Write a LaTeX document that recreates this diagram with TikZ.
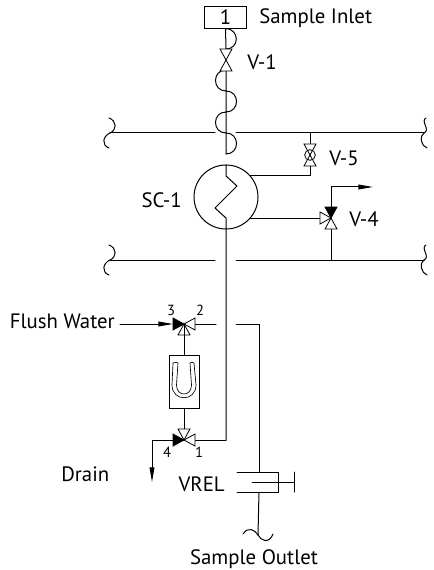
\documentclass[tikz,border=0pt]{standalone}
\usepackage{fontspec}
\setmainfont{PT Sans}
\usetikzlibrary{arrows.meta}
\tikzset{
    pipe/.style={line width=0.75pt,line cap=round},
    lab/.style={font=\fontsize{15.6pt}{17pt}\selectfont,inner sep=0pt},
    portlab/.style={font=\fontsize{11pt}{13pt}\selectfont,inner sep=0pt},
    flow/.style={pipe,-{Triangle[length=11pt,width=3.6pt]}},
    openwedge/.pic={\draw[line width=0.6pt,fill=white] (0,0) -- (-6,-11) -- (6,-11) -- cycle;},
    fullwedge/.pic={\draw[line width=0.6pt,fill=black] (0,0) -- (-6,-11) -- (6,-11) -- cycle;}
}

\begin{document}
\begin{tikzpicture}[x=0.75pt,y=-0.75pt]
    \useasboundingbox (0,0) rectangle (433,570);

    % Sample inlet
    \node[draw,line width=0.6pt,minimum width=32pt,minimum height=16pt,inner sep=0pt,lab] (inlet) at (225.5,17.5) {1};
    \node[lab,anchor=west] (inletlab) at (259,18) {Sample Inlet};

    % Named points of the main line
    \coordinate (vonetop) at (226,49);
    \coordinate (vone) at (226,60);
    \coordinate (vonebot) at (226,70);
    \coordinate (w1) at (226,91);
    \coordinate (w2) at (226,112);
    \coordinate (w3) at (226,133);
    \coordinate (w4) at (226,154);
    \coordinate (sctop) at (226,165);
    \coordinate (scin) at (226,176);
    \coordinate (z1) at (237,186);
    \coordinate (z2) at (215,208);
    \coordinate (scout) at (226,218);
    \coordinate (corner) at (226,440);

    % Line from the inlet, with its flexible parts
    \draw[pipe] (inlet.south) -- (vonetop) (vonebot) -- (w4);
    \draw[pipe] (inlet.south) .. controls +(14,0) and +(14,0) .. (vonetop);
    \draw[pipe] (vonebot) .. controls +(-14,0) and +(-14,0) .. (w1);
    \draw[pipe] (w1) .. controls +(14,0) and +(14,0) .. (w2);
    \draw[pipe] (w2) .. controls +(-14,0) and +(-14,0) .. (w3);
    \draw[pipe] (w3) .. controls +(14,0) and +(14,0) .. (w4);

    % Valve V-1
    \pic at (vone) {openwedge};
    \pic[rotate=180] at (vone) {openwedge};
    \node[lab,anchor=west] (vonelab) at (247,62) {V-1};

    % Cooler
    \node[draw,circle,line width=0.75pt,minimum size=48pt,inner sep=0pt] (cooler) at (226,197) {};
    \node[lab,anchor=east] (coolerlab) at (182,200) {SC-1};
    \draw[pipe] (sctop) -- (scin) -- (z1) -- (z2) -- (scout) -- (corner);

    % Headers
    \foreach \name/\y in {topl/133,botl/260} {
        \coordinate (\name a) at (110,\y);
        \coordinate (\name b) at (215,\y);
        \coordinate (\name c) at (236,\y);
        \coordinate (\name d) at (424,\y);
        \draw[pipe] (\name a) -- (\name b) (\name c) -- (\name d);
        \draw[pipe] (\name a) .. controls +(7,-3) and +(8,3) .. +(-1,-15);
        \draw[pipe] (\name a) .. controls +(-7,3) and +(-8,-3) .. +(-1,15);
        \draw[pipe] (\name d) .. controls +(7,-3) and +(-6,3) .. +(2,-15);
        \draw[pipe] (\name d) .. controls +(-5,3) and +(-6,-2) .. +(3,15);
    }

    % Valve V-5
    \coordinate (vfive) at (310,155);
    \coordinate (vfivein) at (250,176);
    \coordinate (vfivebend) at (310,176);
    \coordinate (vfivetop) at (310,133);
    \draw[pipe] (vfivein) -- (vfivebend) -- (vfivetop);
    \pic at (vfive) {openwedge};
    \pic[rotate=180] at (vfive) {openwedge};
    \node[draw,circle,line width=0.6pt,minimum size=8pt,inner sep=0pt] (vfivex) at (vfive) {};
    \node[lab,anchor=west] (vfivelab) at (329,158) {V-5};

    % Valve V-4
    \coordinate (vfour) at (331,218);
    \coordinate (vfourin) at (250,218);
    \coordinate (vfourup) at (331,187);
    \coordinate (vfourend) at (373,187);
    \coordinate (vfourbot) at (331,260);
    \draw[pipe] (vfourin) -- (vfour) (vfourbot) -- (vfour);
    \draw[flow] (vfour) -- (vfourup) -- (vfourend);
    \pic at (vfour) {fullwedge};
    \pic[rotate=180] at (vfour) {openwedge};
    \pic[rotate=90] at (vfour) {openwedge};
    \node[lab,anchor=west] (vfourlab) at (349,219) {V-4};

    % Flush valve
    \coordinate (vflush) at (184,324);
    \coordinate (flushin) at (120,324);
    \coordinate (flushtip) at (173,324);
    \coordinate (flushout) at (216,324);
    \coordinate (flushon) at (236,324);
    \coordinate (flushbend) at (259,324);
    \coordinate (relin) at (259,472);
    \node[lab,anchor=east] (flushlab) at (115,321) {Flush Water};
    \draw[flow] (flushin) -- (flushtip);
    \draw[pipe] (vflush) -- (flushout) (flushon) -- (flushbend) -- (relin);
    \pic[rotate=90] at (vflush) {fullwedge};
    \pic[rotate=-90] at (vflush) {openwedge};
    \pic[rotate=180] at (vflush) {openwedge};
    \node[portlab] (pthree) at (171,310) {3};
    \node[portlab] (ptwo) at (200,310) {2};

    % Rotameter
    \node[draw,line width=0.75pt,minimum width=22.5pt,minimum height=39.75pt,inner sep=0pt] (rota) at (184,381.5) {};
    \draw[pipe] (vflush) -- (rota.north);
    \draw[line width=0.5pt] (173,363) .. controls (175,362) and (177,362) .. (178,363)
        -- (176.5,385) .. controls (176.5,397) and (191.5,397) .. (191.5,385)
        -- (190,363) .. controls (191,362) and (193,362) .. (194,363)
        -- (196,385) .. controls (196,402) and (172,402) .. (172,385) -- cycle;

    % Drain valve
    \coordinate (vdrain) at (184,440);
    \coordinate (drainbend) at (152,440);
    \coordinate (drainend) at (152,482);
    \draw[pipe] (rota.south) -- (vdrain) (vdrain) -- (corner);
    \draw[flow] (vdrain) -- (drainbend) -- (drainend);
    \pic[rotate=90] at (vdrain) {fullwedge};
    \pic[rotate=-90] at (vdrain) {openwedge};
    \pic at (vdrain) {openwedge};
    \node[portlab] (pfour) at (167,452) {4};
    \node[portlab] (pone) at (199,452) {1};
    \node[lab,anchor=west] (drainlab) at (61,474) {Drain};

    % Relief valve and outlet
    \coordinate (rella) at (237,472);
    \coordinate (rellb) at (278,472);
    \coordinate (rellc) at (278,492);
    \coordinate (relld) at (237,492);
    \coordinate (stema) at (252,482);
    \coordinate (stemb) at (294,482);
    \coordinate (capa) at (294,472);
    \coordinate (capb) at (294,492);
    \coordinate (relout) at (259,492);
    \coordinate (outend) at (258,535);
    \draw[pipe] (rella) -- (rellb) -- (rellc) -- (relld);
    \draw[pipe] (stema) -- (stemb) (capa) -- (capb);
    \draw[pipe] (relout) -- (outend);
    \draw[pipe] (outend) .. controls +(-3,-5) and +(5,-8) .. +(-15,-1);
    \draw[pipe] (outend) .. controls +(3,6) and +(-4,10) .. +(15,-1);
    \node[lab,anchor=east] (rellab) at (225,484) {VREL};
    \node[lab] (outlab) at (254,559) {Sample Outlet};
\end{tikzpicture}
\end{document}
